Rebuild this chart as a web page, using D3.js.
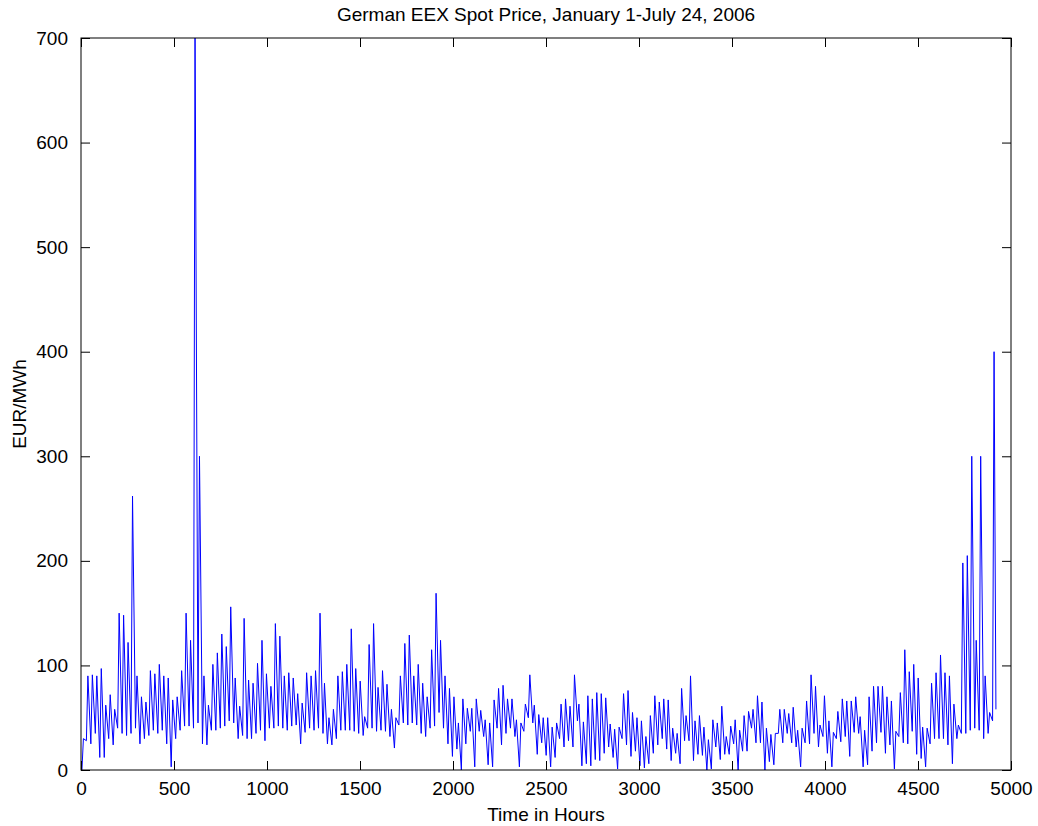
<!DOCTYPE html>
<html>
<head>
<meta charset="utf-8">
<script src="https://cdn.jsdelivr.net/npm/d3@7"></script>
<style>
  body { margin: 0; background: #fff; }
  text { font-family: "Liberation Sans", Arial, sans-serif; fill: #000; }
</style>
</head>
<body>
<div class="grafico"></div>
<script>
// daily peak and trough prices (EUR/MWh), day 0 = Jan 1
var dayHigh = [30, 90, 91, 90, 97, 62, 72, 58, 150, 148, 122, 262, 90, 70, 65, 95, 92, 101, 90, 88,
  67, 70, 95, 150, 124, 720, 300, 90, 62, 101, 112, 130, 118, 156, 88, 61, 145, 86, 83, 102,
  124, 92, 80, 140, 128, 90, 93, 88, 73, 64, 93, 90, 95, 150, 83, 50, 58, 90, 94, 101,
  135, 97, 85, 51, 120, 140, 79, 95, 82, 58, 50, 90, 121, 129, 90, 101, 83, 70, 115, 169,
  124, 90, 78, 70, 45, 68, 59, 59, 68, 57, 48, 45, 67, 78, 81, 68, 68, 48, 45, 63,
  91, 62, 53, 50, 50, 41, 45, 63, 68, 61, 91, 63, 46, 71, 68, 74, 73, 69, 44, 39,
  41, 73, 76, 55, 50, 47, 32, 52, 71, 65, 68, 67, 40, 35, 78, 52, 90, 47, 52, 41,
  29, 48, 45, 61, 32, 42, 48, 38, 52, 56, 58, 71, 65, 40, 34, 35, 58, 58, 54, 60,
  38, 40, 66, 91, 80, 43, 71, 47, 36, 56, 68, 66, 66, 70, 51, 38, 70, 80, 80, 80,
  70, 66, 37, 74, 115, 94, 101, 88, 41, 40, 83, 93, 110, 93, 90, 63, 43, 198, 205, 300,
  124, 300, 90, 55, 400];
var dayLow = [0, 28, 25, 35, 12, 12, 30, 24, 40, 35, 33, 35, 40, 25, 30, 33, 38, 35, 38, 25,
  3, 30, 38, 42, 42, 40, 45, 25, 24, 38, 38, 40, 42, 47, 45, 30, 33, 30, 30, 35,
  38, 28, 40, 40, 42, 40, 38, 42, 43, 25, 36, 40, 38, 40, 35, 25, 24, 30, 38, 38,
  38, 37, 35, 33, 40, 40, 37, 38, 37, 32, 21, 43, 45, 43, 45, 43, 35, 32, 40, 42,
  55, 40, 25, 13, 20, 0, 25, 37, 3, 37, 32, 5, 3, 40, 24, 35, 40, 32, 3, 37,
  50, 45, 15, 26, 14, 3, 12, 30, 22, 28, 22, 47, 4, 6, 4, 10, 9, 16, 22, 12,
  1, 30, 24, 13, 18, 4, 2, 6, 16, 24, 30, 20, 9, 16, 6, 28, 28, 9, 15, 14,
  0, 1, 22, 10, 15, 15, 25, 0, 18, 18, 40, 26, 26, 0, 8, 5, 35, 26, 35, 26,
  22, 3, 26, 25, 35, 22, 32, 16, 3, 30, 27, 32, 13, 36, 35, 3, 5, 18, 26, 36,
  16, 24, 1, 32, 26, 25, 37, 15, 11, 3, 25, 30, 30, 30, 24, 6, 30, 35, 35, 38,
  40, 38, 30, 35, 47];
// last reading of the series (hour, price)
var tail = [[4919, 58]];

var xTicks = [0, 500, 1000, 1500, 2000, 2500, 3000, 3500, 4000, 4500, 5000];
var yTicks = [0, 100, 200, 300, 400, 500, 600, 700];

var margin = { top: 38, right: 27, bottom: 56, left: 81 };
var width = 1038 - margin.left - margin.right,
  height = 826 - margin.top - margin.bottom;
var fontSize = "19px";

// hour of the trough and the peak inside each day
var series = [];
dayHigh.forEach(function (h, d) {
  series.push([d * 24 + 5, dayLow[d]]);
  series.push([d * 24 + 13, h]);
});
tail.forEach(function (p) { series.push(p); });

var svg = d3.select(".grafico").append("svg")
  .attr("width", 1038)
  .attr("height", 826);

var g = svg.append("g")
  .attr("transform", "translate(" + margin.left + "," + margin.top + ")");

var x = d3.scaleLinear().domain([0, 5000]).range([0, width]);
var y = d3.scaleLinear().domain([0, 700]).range([height, 0]);

g.append("clipPath").attr("id", "clip")
  .append("rect").attr("width", width).attr("height", height);

var line = d3.line()
  .x(function (d) { return x(d[0]); })
  .y(function (d) { return y(d[1]); });

g.append("path")
  .datum(series)
  .attr("clip-path", "url(#clip)")
  .attr("fill", "none")
  .attr("stroke", "#0000ff")
  .attr("stroke-width", 1)
  .attr("d", line);

// axes, matlab style: ticks pointing in, mirrored on top and right
function styleAxis(sel) {
  sel.select(".domain").remove();
  sel.selectAll("line").attr("stroke", "#000");
  sel.selectAll("text").style("font-size", fontSize).style("font-family", "Liberation Sans, Arial, sans-serif");
}

g.append("g")
  .attr("transform", "translate(0," + height + ")")
  .call(d3.axisBottom(x).tickValues(xTicks).tickSizeInner(-9).tickSizeOuter(0).tickPadding(12).tickFormat(d3.format("d")))
  .call(styleAxis);

g.append("g")
  .call(d3.axisTop(x).tickValues(xTicks).tickSizeInner(-9).tickSizeOuter(0).tickFormat(""))
  .call(styleAxis);

g.append("g")
  .call(d3.axisLeft(y).tickValues(yTicks).tickSizeInner(-9).tickSizeOuter(0).tickPadding(13).tickFormat(d3.format("d")))
  .call(styleAxis);

g.append("g")
  .attr("transform", "translate(" + width + ",0)")
  .call(d3.axisRight(y).tickValues(yTicks).tickSizeInner(-9).tickSizeOuter(0).tickFormat(""))
  .call(styleAxis);

g.append("rect")
  .attr("width", width)
  .attr("height", height)
  .attr("fill", "none")
  .attr("stroke", "#000")
  .attr("stroke-width", 1);

svg.append("text")
  .attr("x", margin.left + width / 2)
  .attr("y", 21)
  .attr("text-anchor", "middle")
  .style("font-size", fontSize)
  .text("German EEX Spot Price, January 1-July 24, 2006");

svg.append("text")
  .attr("x", margin.left + width / 2)
  .attr("y", 821)
  .attr("text-anchor", "middle")
  .style("font-size", fontSize)
  .text("Time in Hours");

svg.append("text")
  .attr("transform", "translate(26," + (margin.top + height / 2) + ") rotate(-90)")
  .attr("text-anchor", "middle")
  .style("font-size", fontSize)
  .text("EUR/MWh");
</script>
</body>
</html>
